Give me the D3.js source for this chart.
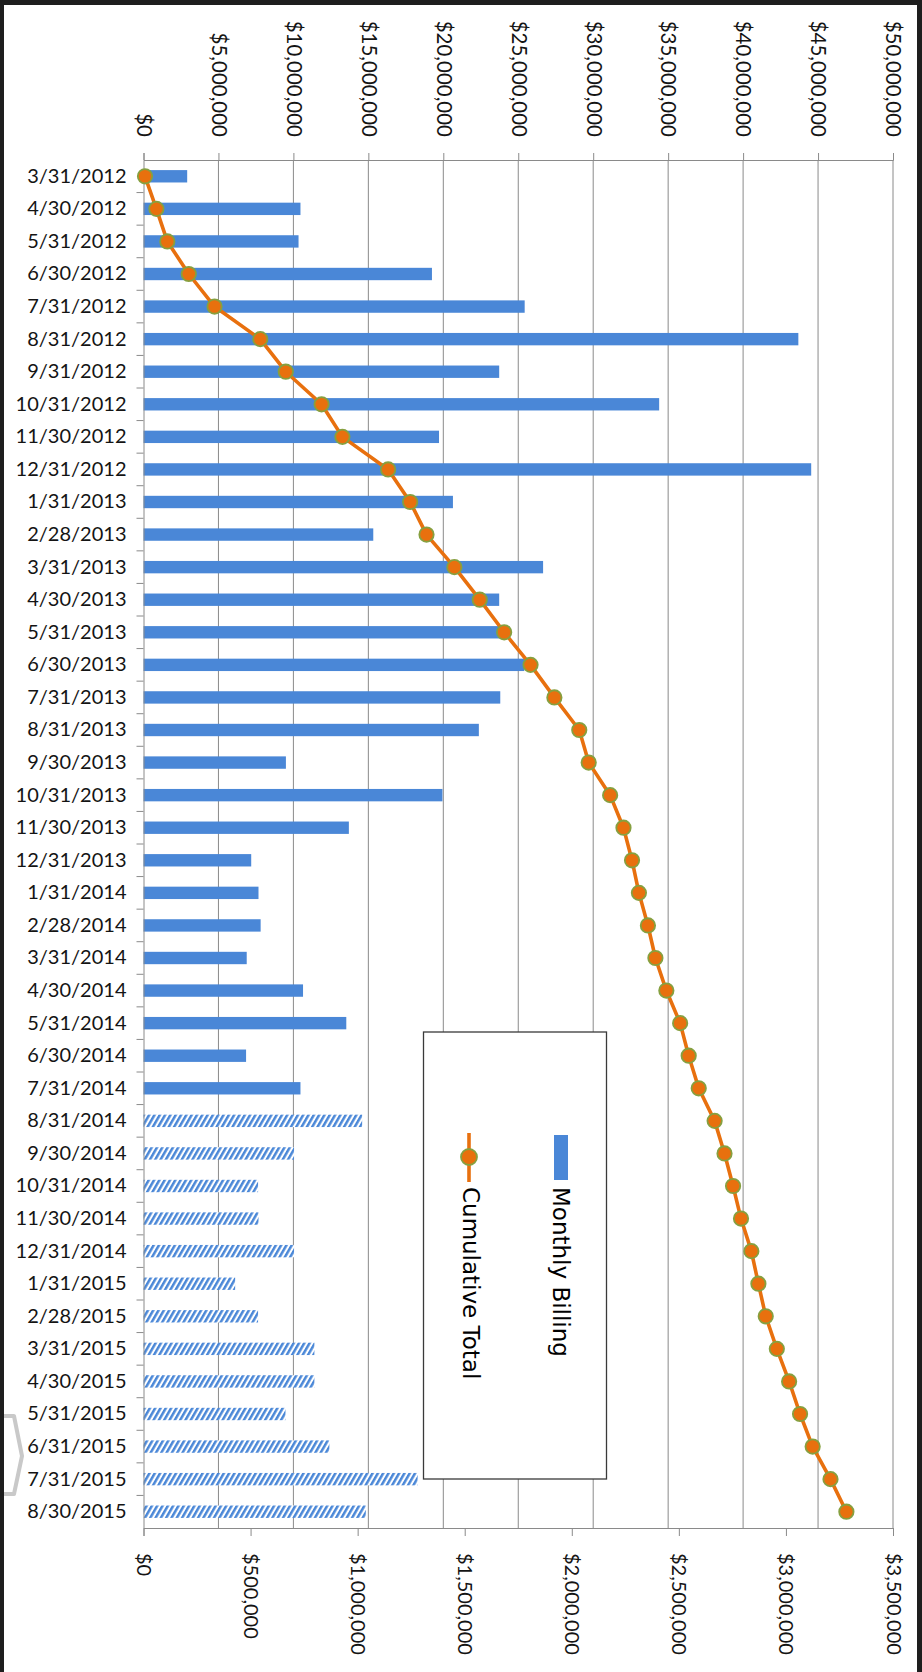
<!DOCTYPE html>
<html>
<head>
<meta charset="utf-8">
<script src="https://cdn.jsdelivr.net/npm/d3@7"></script>
<style>
  html, body { margin: 0; padding: 0; background: #fff; }
  svg { display: block; }
</style>
</head>
<body>
<svg id="chart" width="922" height="1672"></svg>
<script>
// Billing periods, top to bottom
const months = [
  "3/31/2012", "4/30/2012", "5/31/2012", "6/30/2012", "7/31/2012", "8/31/2012",
  "9/31/2012", "10/31/2012", "11/30/2012", "12/31/2012",
  "1/31/2013", "2/28/2013", "3/31/2013", "4/30/2013", "5/31/2013", "6/30/2013",
  "7/31/2013", "8/31/2013", "9/30/2013", "10/31/2013", "11/30/2013", "12/31/2013",
  "1/31/2014", "2/28/2014", "3/31/2014", "4/30/2014", "5/31/2014", "6/30/2014",
  "7/31/2014", "8/31/2014", "9/30/2014", "10/31/2014", "11/30/2014", "12/31/2014",
  "1/31/2015", "2/28/2015", "3/31/2015", "4/30/2015", "5/31/2015", "6/31/2015",
  "7/31/2015", "8/30/2015"
];

// Monthly billing, dollars (bottom axis)
const monthlyBilling = [
  204000, 733000, 724000, 1347000, 1780000, 3058000, 1661000, 2408000, 1380000, 3118000,
  1445000, 1073000, 1866000, 1661000, 1710000, 1778000, 1666000, 1566000, 665000, 1396000,
  959000, 503000, 537000, 547000, 482000, 745000, 947000, 479000, 733000, 1021000,
  703000, 535000, 537000, 703000, 428000, 535000, 798000, 798000, 663000, 868000,
  1280000, 1038000
];

// Running total, dollars (top axis)
const cumulativeTotal = [
  100000, 860000, 1590000, 3020000, 4740000, 7790000, 9490000, 11880000, 13270000, 16320000,
  17790000, 18880000, 20740000, 22430000, 24060000, 25820000, 27410000, 29070000, 29700000, 31130000,
  32020000, 32590000, 33050000, 33650000, 34150000, 34880000, 35800000, 36370000, 37040000, 38100000,
  38760000, 39330000, 39860000, 40550000, 41020000, 41510000, 42250000, 43070000, 43800000, 44640000,
  45830000, 46890000
];

// Bars from this period onward are drawn hatched
const firstProjectedMonth = "8/31/2014";

const cumulativeTicks = [0, 5e6, 10e6, 15e6, 20e6, 25e6, 30e6, 35e6, 40e6, 45e6, 50e6];
const monthlyTicks = [0, 5e5, 1e6, 1.5e6, 2e6, 2.5e6, 3e6, 3.5e6];
const legendLabels = ["Monthly Billing", "Cumulative Total"];

const BLUE = "#4a87d7";
const ORANGE = "#e8700e";
const MARKER_EDGE = "#86a040";
const AXIS = "#8a8a8a";
const TEXT = "#141414";
const LABEL_FONT = "Lato, 'Open Sans', sans-serif";

const svg = d3.select("#chart");
const plot = { left: 143.5, right: 893, top: 160, bottom: 1528 };

const y = d3.scaleBand()
  .domain(months)
  .range([plot.top, plot.bottom])
  .paddingInner(0.62)
  .paddingOuter(0.31);

const xMonthly = d3.scaleLinear().domain([0, 3.5e6]).range([plot.left, plot.right]);
const xCumulative = d3.scaleLinear().domain([0, 50e6]).range([plot.left, plot.right]);
const money = d3.format("$,");

// Hatch fill for projected months
const defs = svg.append("defs");
const hatch = defs.append("pattern")
  .attr("id", "hatch")
  .attr("patternUnits", "userSpaceOnUse")
  .attr("width", 4.6).attr("height", 8)
  .attr("patternTransform", "rotate(30)");
hatch.append("rect").attr("width", 4.6).attr("height", 8).attr("fill", "#fff");
hatch.append("rect").attr("width", 2.5).attr("height", 8).attr("fill", BLUE);

// Outer frame
svg.append("rect").attr("x", 0).attr("y", 0).attr("width", 922).attr("height", 5).attr("fill", "#1e1e1e");
svg.append("rect").attr("x", 0).attr("y", 0).attr("width", 4).attr("height", 1672).attr("fill", "#1e1e1e");
svg.append("rect").attr("x", 917).attr("y", 0).attr("width", 5).attr("height", 1672).attr("fill", "#1e1e1e");
svg.append("polyline")
  .attr("points", "4,1416 14,1416 22,1456 14,1494 4,1494")
  .attr("fill", "none")
  .attr("stroke", "#c9c9c9")
  .attr("stroke-width", 4)
  .attr("stroke-linejoin", "round");

// Vertical gridlines on the cumulative scale
svg.append("g")
  .selectAll("line")
  .data(cumulativeTicks.slice(1))
  .join("line")
  .attr("x1", d => xCumulative(d)).attr("x2", d => xCumulative(d))
  .attr("y1", plot.top).attr("y2", plot.bottom)
  .attr("stroke", AXIS).attr("stroke-width", 1);

// Monthly bars
const projectedStart = months.indexOf(firstProjectedMonth);
svg.append("g")
  .selectAll("rect")
  .data(months)
  .join("rect")
  .attr("x", xMonthly(0))
  .attr("y", d => y(d))
  .attr("height", y.bandwidth())
  .attr("width", (d, i) => xMonthly(monthlyBilling[i]) - xMonthly(0))
  .attr("fill", (d, i) => i >= projectedStart ? "url(#hatch)" : BLUE);

// Top axis: cumulative total
const topAxis = svg.append("g")
  .attr("transform", `translate(0,${plot.top})`)
  .call(d3.axisTop(xCumulative).tickValues(cumulativeTicks).tickSize(7).tickFormat(money));
topAxis.select(".domain").attr("stroke", AXIS);
topAxis.selectAll(".tick line").attr("stroke", AXIS);
topAxis.selectAll(".tick text")
  .attr("transform", "rotate(90)")
  .attr("x", -23).attr("y", 0).attr("dy", "0.35em")
  .style("text-anchor", "end")
  .style("font-family", LABEL_FONT).style("font-size", "20.5px").attr("fill", TEXT);

// Bottom axis: monthly billing
const bottomAxis = svg.append("g")
  .attr("transform", `translate(0,${plot.bottom})`)
  .call(d3.axisBottom(xMonthly).tickValues(monthlyTicks).tickSize(8).tickFormat(money));
bottomAxis.select(".domain").attr("stroke", AXIS);
bottomAxis.selectAll(".tick line").attr("stroke", AXIS);
bottomAxis.selectAll(".tick text")
  .attr("transform", "rotate(90)")
  .attr("x", 25).attr("y", 0).attr("dy", "0.35em")
  .style("text-anchor", "start")
  .style("font-family", LABEL_FONT).style("font-size", "20px").attr("fill", TEXT);

// Left axis: billing periods
const leftAxis = svg.append("g")
  .attr("transform", `translate(${plot.left},0)`)
  .call(d3.axisLeft(y).tickSize(0).tickPadding(17));
leftAxis.select(".domain").attr("stroke", AXIS);
leftAxis.selectAll(".tick text")
  .style("font-family", LABEL_FONT).style("font-size", "20px").attr("fill", TEXT);
// tick marks sit between periods
const gap = (y.step() - y.bandwidth()) / 2;
leftAxis.append("g")
  .selectAll("line")
  .data(months.slice(1))
  .join("line")
  .attr("x1", -7).attr("x2", 0)
  .attr("y1", d => y(d) - gap).attr("y2", d => y(d) - gap)
  .attr("stroke", AXIS);

// Cumulative line with markers
const cy = d => y(d) + y.bandwidth() / 2;
const line = d3.line()
  .x((d, i) => xCumulative(cumulativeTotal[i]))
  .y(d => cy(d));
svg.append("path")
  .datum(months)
  .attr("d", line)
  .attr("fill", "none")
  .attr("stroke", ORANGE)
  .attr("stroke-width", 3.6)
  .attr("stroke-linejoin", "round");
svg.append("g")
  .selectAll("circle")
  .data(months)
  .join("circle")
  .attr("cx", (d, i) => xCumulative(cumulativeTotal[i]))
  .attr("cy", d => cy(d))
  .attr("r", 7.2)
  .attr("fill", ORANGE)
  .attr("stroke", MARKER_EDGE)
  .attr("stroke-width", 1.8);

// Legend
const legend = svg.append("g");
legend.append("rect")
  .attr("x", 423.5).attr("y", 1032).attr("width", 183).attr("height", 447)
  .attr("fill", "#fff").attr("stroke", "#3a3a3a").attr("stroke-width", 1.3);
legend.append("rect")
  .attr("x", 554).attr("y", 1135).attr("width", 14).attr("height", 45)
  .attr("fill", BLUE);
legend.append("line")
  .attr("x1", 469).attr("x2", 469).attr("y1", 1133).attr("y2", 1182)
  .attr("stroke", ORANGE).attr("stroke-width", 3.6);
legend.append("circle")
  .attr("cx", 469).attr("cy", 1157).attr("r", 8)
  .attr("fill", ORANGE).attr("stroke", MARKER_EDGE).attr("stroke-width", 1.8);
legend.selectAll("text")
  .data(legendLabels)
  .join("text")
  .attr("transform", (d, i) => `translate(${i === 0 ? 553 : 463},1187) rotate(90)`)
  .style("font-family", "'DejaVu Sans', sans-serif")
  .style("font-size", "23px")
  .attr("fill", "#000")
  .text(d => d);
</script>
</body>
</html>
